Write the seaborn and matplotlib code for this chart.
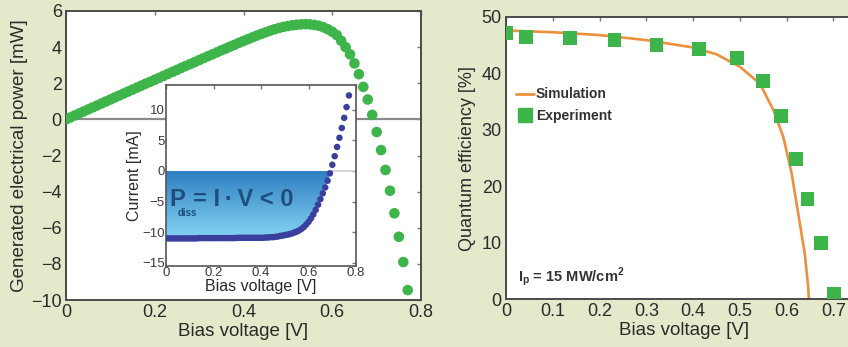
import numpy as np
import matplotlib
matplotlib.use("Agg")
import matplotlib.pyplot as plt
import seaborn as sns
from matplotlib.lines import Line2D

# left panel: generated power vs bias voltage (dotted curve)
bias_v = [0.00, 0.01, 0.02, 0.03, 0.04, 0.05, 0.06, 0.07, 0.08, 0.09,
          0.10, 0.11, 0.12, 0.13, 0.14, 0.15, 0.16, 0.17, 0.18, 0.19,
          0.20, 0.21, 0.22, 0.23, 0.24, 0.25, 0.26, 0.27, 0.28, 0.29,
          0.30, 0.31, 0.32, 0.33, 0.34, 0.35, 0.36, 0.37, 0.38, 0.39,
          0.40, 0.41, 0.42, 0.43, 0.44, 0.45, 0.46, 0.47, 0.48, 0.49,
          0.50, 0.51, 0.52, 0.53, 0.54, 0.55, 0.56, 0.57, 0.58, 0.59,
          0.60, 0.61, 0.62, 0.63, 0.64, 0.65, 0.66, 0.67, 0.68, 0.69,
          0.70, 0.71, 0.72, 0.73, 0.74, 0.75, 0.76, 0.77]
power_mw = [0.00, 0.11, 0.22, 0.33, 0.44, 0.55, 0.66, 0.77, 0.88, 0.99,
            1.10, 1.21, 1.32, 1.43, 1.54, 1.65, 1.76, 1.87, 1.98, 2.08,
            2.19, 2.30, 2.41, 2.52, 2.63, 2.74, 2.85, 2.96, 3.06, 3.17,
            3.28, 3.39, 3.50, 3.60, 3.71, 3.82, 3.92, 4.03, 4.13, 4.24,
            4.34, 4.44, 4.54, 4.64, 4.73, 4.82, 4.91, 4.99, 5.06, 5.12,
            5.17, 5.21, 5.24, 5.26, 5.27, 5.26, 5.23, 5.18, 5.10, 4.99,
            4.85, 4.67, 4.35, 4.00, 3.60, 3.10, 2.50, 1.80, 1.10, 0.25,
            -0.70, -1.70, -2.80, -3.95, -5.20, -6.50, -7.90, -9.45]
# inset: current vs bias voltage
current_ma = [-11.0, -11.0, -11.0, -11.0, -11.0, -11.0, -11.0, -11.0, -11.0, -11.0,
              -11.0, -11.0, -11.0, -11.0, -10.95, -10.95, -10.95, -10.95, -10.95, -10.95,
              -10.95, -10.95, -10.95, -10.95, -10.95, -10.95, -10.95, -10.95, -10.95, -10.95,
              -10.9, -10.9, -10.9, -10.9, -10.9, -10.9, -10.9, -10.9, -10.9, -10.9,
              -10.9, -10.9, -10.85, -10.85, -10.8, -10.8, -10.75, -10.7, -10.6, -10.55,
              -10.45, -10.4, -10.3, -10.2, -10.05, -9.9, -9.7, -9.45, -9.15, -8.75,
              -8.3, -7.75, -7.1, -6.35, -5.5, -4.6, -3.65, -2.7, -1.6, -0.4,
              1.0, 2.4, 3.9, 5.4, 7.0, 8.65, 10.4, 12.3]

# right panel: quantum efficiency
sim_v = [0.0, 0.1, 0.2, 0.3, 0.4, 0.45, 0.5, 0.543, 0.572, 0.593, 0.611, 0.625, 0.639, 0.646, 0.648]
sim_qe = [47.6, 47.3, 46.8, 45.9, 44.6, 43.4, 41.2, 38.2, 33.5, 28.8, 22.3, 15.2, 8.1, 2.5, 0.0]
exp_v = [0.0, 0.043, 0.137, 0.232, 0.322, 0.413, 0.495, 0.549, 0.588, 0.620, 0.645, 0.673, 0.701]
exp_qe = [47.1, 46.4, 46.2, 45.9, 45.1, 44.4, 42.8, 38.6, 32.5, 24.9, 17.7, 9.9, 0.9]

sns.set_theme(style="white")
plt.rcParams['font.family'] = ['Liberation Sans', 'DejaVu Sans']
plt.rcParams['mathtext.fontset'] = 'custom'
plt.rcParams['mathtext.rm'] = 'Liberation Sans'
plt.rcParams['mathtext.bf'] = 'Liberation Sans:bold'
plt.rcParams['axes.unicode_minus'] = True

BG = '#e4e9cb'
GREEN = '#3db54a'
BLUE_DOT = '#3a3f9e'
ORANGE = '#ee8f3e'
TXT = '#2a2a2a'

fig = plt.figure(figsize=(8.48, 3.47), dpi=100, facecolor=BG)


def style_axes(ax, lw=1.4, color='#4a4a4a', size=13, tick_color=TXT):
    for sp in ax.spines.values():
        sp.set_color(color)
        sp.set_linewidth(lw)
    ax.tick_params(direction='in', length=3, width=1, color='#777777',
                   top=True, right=True, labelsize=size, labelcolor=tick_color, pad=3)


# ---- left main panel ----
ax1 = fig.add_axes([0.0778, 0.1354, 0.4187, 0.8329])
ax1.set_facecolor('white')
ax1.axhline(0, color='#8a8a8a', lw=1.6, zorder=1)
sns.scatterplot(x=bias_v, y=power_mw, ax=ax1, color=GREEN, s=58,
                edgecolor='none', linewidth=0, zorder=3)
ax1.set_xlim(0, 0.8)
ax1.set_ylim(-10, 6)
ax1.set_xticks([0, 0.2, 0.4, 0.6, 0.8])
ax1.set_xticklabels(['0', '0.2', '0.4', '0.6', '0.8'])
ax1.set_yticks([6, 4, 2, 0, -2, -4, -6, -8, -10])
ax1.set_xlabel('Bias voltage [V]', fontsize=13.5, color=TXT, labelpad=1)
ax1.set_ylabel('Generated electrical power [mW]', fontsize=13.5, color=TXT, labelpad=2)
style_axes(ax1)

# ---- inset ----
axi = fig.add_axes([0.1958, 0.2334, 0.2241, 0.5216])
axi.set_facecolor('white')
axi.set_xlim(0, 0.8)
axi.set_ylim(-15.5, 14)
v_arr = np.array(bias_v)
i_arr = np.array(current_ma)
neg = i_arr <= 0
poly = axi.fill_between(v_arr[neg], i_arr[neg], 0, color='none', lw=0)
grad = np.linspace(0, 1, 256).reshape(-1, 1)
cmap = matplotlib.colors.LinearSegmentedColormap.from_list('g', ['#2f7fc2', '#87d6f4'])
img = axi.imshow(grad, cmap=cmap, aspect='auto', extent=[0, 0.8, -11.2, 0],
                 origin='upper', zorder=1)
img.set_clip_path(poly.get_paths()[0], transform=axi.transData)
axi.axhline(0, xmin=0.85, color='#d0d0d0', lw=1.2, zorder=1)
sns.scatterplot(x=bias_v, y=current_ma, ax=axi, color=BLUE_DOT, s=22,
                edgecolor='none', linewidth=0, zorder=3)
PCOL = '#1d4e7e'
axi.text(0.015, -4.6, 'P', fontsize=17, fontweight='bold', color=PCOL,
         va='center', ha='left', zorder=4)
axi.text(0.05, -6.9, 'diss', fontsize=7, fontweight='bold', color=PCOL,
         va='center', ha='left', zorder=4)
axi.text(0.115, -4.6, '= I\u2009\u00b7\u2009V < 0', fontsize=17, fontweight='bold',
         color=PCOL, va='center', ha='left', zorder=4)
axi.set_xticks([0, 0.2, 0.4, 0.6, 0.8])
axi.set_xticklabels(['0', '0.2', '0.4', '0.6', '0.8'])
axi.set_yticks([-15, -10, -5, 0, 5, 10])
axi.set_xlabel('Bias voltage [V]', fontsize=11.5, color=TXT, labelpad=0)
axi.set_ylabel('Current [mA]', fontsize=11.5, color=TXT, labelpad=0)
style_axes(axi, lw=1.2, color='#555555', size=9.5, tick_color='#3a3a3a')
axi.tick_params(pad=1)

# ---- right panel ----
ax2 = fig.add_axes([0.5967, 0.1375, 0.419, 0.8136])
ax2.set_facecolor('white')
sns.lineplot(x=sim_v, y=sim_qe, ax=ax2, color=ORANGE, lw=1.9, sort=False,
             estimator=None, zorder=2)
sns.scatterplot(x=exp_v, y=exp_qe, ax=ax2, color=GREEN, marker='s', s=100,
                edgecolor='none', linewidth=0, zorder=3)
ax2.set_xlim(0, 0.76)
ax2.set_ylim(0, 50)
ax2.set_xticks([0, 0.1, 0.2, 0.3, 0.4, 0.5, 0.6, 0.7])
ax2.set_xticklabels(['0', '0.1', '0.2', '0.3', '0.4', '0.5', '0.6', '0.7'])
ax2.set_yticks([0, 10, 20, 30, 40, 50])
ax2.set_xlabel('Bias voltage [V]', fontsize=13.5, color=TXT, labelpad=1)
ax2.set_ylabel('Quantum efficiency [%]', fontsize=13, color=TXT, labelpad=4)
style_axes(ax2)
handles = [Line2D([], [], color=ORANGE, lw=2),
           Line2D([], [], color=GREEN, marker='s', ls='none', markersize=10)]
leg = ax2.legend(handles, ['Simulation', 'Experiment'], loc='upper left',
                 bbox_to_anchor=(0.0, 0.785), frameon=False, handlelength=1.3,
                 handletextpad=0.15, labelspacing=0.55, borderaxespad=0.3,
                 prop={'size': 10, 'weight': 'bold'})
for t in leg.get_texts():
    t.set_color('#333333')
ax2.text(0.035, 0.08, r'$\mathbf{I_p}$ = 15 MW/cm$^\mathbf{2}$', transform=ax2.transAxes,
         fontsize=10.5, fontweight='bold', color='#333333', va='center')

fig.savefig('out.png', dpi=100, facecolor=BG)
